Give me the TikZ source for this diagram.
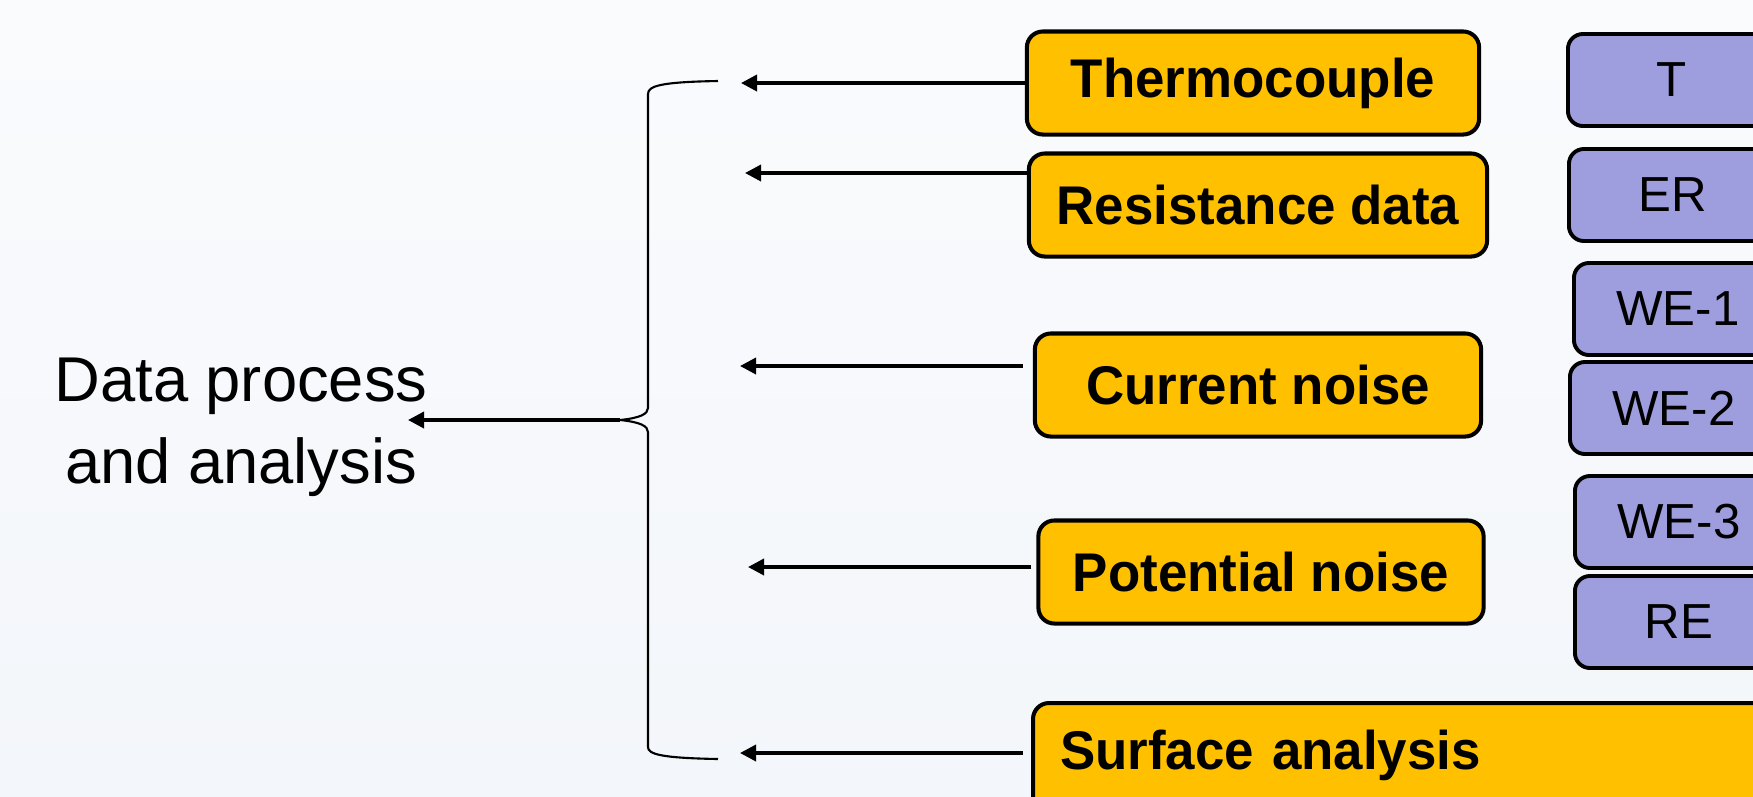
\documentclass[tikz,border=0pt]{standalone}
\usepackage{fontspec}
\setmainfont{Liberation Sans}
\newfontfamily\labfont[FakeStretch=0.97]{Liberation Sans}
\usetikzlibrary{arrows.meta}
\definecolor{gol}{RGB}{255,192,0}
\definecolor{lav}{RGB}{158,158,222}
\definecolor{bgt}{RGB}{250,251,253}
\definecolor{bgb}{RGB}{243,246,250}
\tikzset{
    obox/.style={draw=black,line width=1.15pt,fill=gol,rounded corners=0.16cm,minimum height=1.03cm,font=\labfont\fontsize{15.5}{18}\selectfont\bfseries},
    pbox/.style={draw=black,line width=1.1pt,fill=lav,rounded corners=0.15cm,minimum width=2.08cm,minimum height=0.92cm,anchor=west,font=\fontsize{14}{16}\selectfont},
    arr/.style={line width=1pt,-{Triangle[length=0.16cm,width=0.16cm]}}
}

\begin{document}
\begin{tikzpicture}[x=0.01cm,y=-0.01cm]
    \useasboundingbox (0,0) rectangle (1753,796);
    \fill[top color=bgt,bottom color=bgb] (0,0) rectangle (1753,796);
    %
    \node[obox,minimum width=4.52cm] (thermo) at (1253,83) {Thermocouple};
    \node[obox,minimum width=4.58cm] (res) at (1258,205) {Resistance data};
    \node[obox,minimum width=4.46cm] (cur) at (1258,385) {Current noise};
    \node[obox,minimum width=4.45cm] (pot) at (1261,572) {Potential noise};
    \node[obox,anchor=north west,text width=7cm,align=left,text depth=1.2cm,inner sep=0.27cm] (surf) at (1031,701) {Surface analysis};
    %
    \node[pbox] (t) at (1566,80) {T};
    \node[pbox] (er) at (1567,195) {ER};
    \node[pbox] (we1) at (1572,309) {WE-1};
    \node[pbox] (we2) at (1568,408) {WE-2};
    \node[pbox] (we3) at (1573,522) {WE-3};
    \node[pbox] (re) at (1573,622) {RE};
    %
    \node[align=center,font=\fontsize{18}{23.3}\selectfont] (dp) at (241,427) {Data process\\and analysis};
    %
    \coordinate (in1) at (741,83);
    \coordinate (in2) at (745,173);
    \coordinate (in3) at (740,366);
    \coordinate (in4) at (748,567);
    \coordinate (in5) at (740,753);
    \draw[arr] (thermo.west) -- (in1);
    \draw[arr] (res.west |- in2) -- (in2);
    \draw[arr,shorten <=0.1cm] (cur.west |- in3) -- (in3);
    \draw[arr,shorten <=0.05cm] (pot.west |- in4) -- (in4);
    \draw[arr,shorten <=0.08cm] (surf.west |- in5) -- (in5);
    %
    \coordinate (bt) at (718,81);
    \coordinate (bm) at (620,420);
    \coordinate (bb) at (718,759);
    \coordinate (dpin) at (408,420);
    \draw[line width=0.6pt] (bt) .. controls (660,82) and (648,86) .. (648,94) -- (648,408)
        .. controls (648,414) and (640,418) .. (bm) .. controls (640,422) and (648,426) .. (648,432)
        -- (648,747) .. controls (648,754) and (660,758) .. (bb);
    \draw[arr] (bm) -- (dpin);
    %
\end{tikzpicture}
\end{document}
